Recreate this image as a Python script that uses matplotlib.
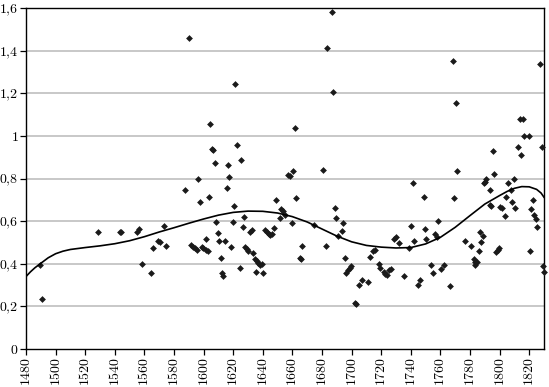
import numpy as np
import matplotlib
matplotlib.use("Agg")
import matplotlib.pyplot as plt

# ── data ──────────────────────────────────────────────────────────────────────

years = [
    1489.5, 1490.6, 1528.6, 1543.6, 1544.4, 1555.3, 1556.4, 1558.4, 1564.4, 1565.7,
    1569.5, 1570.6, 1573.5, 1574.7, 1587.5, 1590.4, 1591.6, 1593.1, 1594.3, 1595.4,
    1596.5, 1597.6, 1598.8, 1599.9, 1601.7, 1601.7, 1602.8, 1603.4, 1604.4, 1605.8,
    1606.6, 1607.5, 1608.5, 1609.4, 1610.6, 1611.6, 1612.3, 1613.4, 1614.5, 1615.6,
    1616.5, 1617.4, 1618.6, 1619.6, 1620.6, 1621.5, 1622.4, 1624.7, 1625.5, 1626.5,
    1627.4, 1628.1, 1629.2, 1630.3, 1631.6, 1632.7, 1633.7, 1634.8, 1635.4, 1636.0,
    1637.0, 1638.2, 1639.3, 1640.4, 1641.6, 1642.9, 1644.2, 1645.0, 1646.1, 1647.7,
    1648.9, 1651.5, 1652.6, 1653.8, 1655.1, 1656.8, 1658.2, 1659.6, 1660.5, 1661.7,
    1662.4, 1664.8, 1665.8, 1666.6, 1674.3, 1680.9, 1682.6, 1683.5, 1686.7, 1687.4,
    1688.5, 1689.7, 1690.5, 1693.4, 1694.5, 1695.5, 1696.4, 1697.5, 1698.6, 1699.5,
    1702.5, 1703.3, 1704.7, 1706.8, 1710.8, 1712.6, 1714.3, 1715.6, 1718.4, 1719.4,
    1721.6, 1722.7, 1723.9, 1725.0, 1726.3, 1728.6, 1729.8, 1731.7, 1735.6, 1738.5,
    1740.4, 1741.5, 1742.3, 1744.6, 1746.4, 1748.6, 1749.8, 1750.6, 1753.5, 1754.7,
    1756.5, 1757.7, 1758.6, 1760.6, 1762.4, 1766.6, 1768.5, 1769.5, 1770.7, 1771.5,
    1776.5, 1780.5, 1782.4, 1783.1, 1783.6, 1784.5, 1785.8, 1787.0, 1787.4, 1788.6,
    1789.7, 1790.4, 1791.0, 1793.3, 1793.3, 1794.3, 1795.5, 1796.4, 1797.8, 1798.8,
    1799.8, 1800.5, 1801.6, 1803.4, 1804.5, 1805.5, 1807.7, 1808.5, 1809.5, 1810.6,
    1812.7, 1814.0, 1814.6, 1815.8, 1816.7, 1819.6, 1820.6, 1821.3, 1822.4, 1823.2,
    1824.4, 1825.5, 1827.5, 1828.6, 1829.4, 1830.0,
]
values = [
    0.394, 0.233, 0.547, 0.549, 0.549, 0.548, 0.562, 0.397, 0.355, 0.475,
    0.508, 0.504, 0.576, 0.485, 0.746, 1.461, 0.488, 0.480, 0.475, 0.465,
    0.796, 0.690, 0.480, 0.472, 0.515, 0.465, 0.461, 0.713, 1.054, 0.939,
    0.932, 0.871, 0.597, 0.542, 0.508, 0.429, 0.357, 0.343, 0.506, 0.757,
    0.865, 0.808, 0.480, 0.596, 0.672, 1.243, 0.957, 0.379, 0.887, 0.573,
    0.619, 0.479, 0.468, 0.461, 0.551, 0.557, 0.449, 0.421, 0.363, 0.412,
    0.405, 0.396, 0.397, 0.355, 0.558, 0.549, 0.540, 0.535, 0.540, 0.566,
    0.698, 0.614, 0.655, 0.646, 0.627, 0.816, 0.810, 0.591, 0.837, 1.037,
    0.709, 0.428, 0.423, 0.484, 0.580, 0.841, 0.484, 1.414, 1.581, 1.207,
    0.663, 0.617, 0.530, 0.554, 0.589, 0.425, 0.355, 0.370, 0.382, 0.390,
    0.216, 0.213, 0.302, 0.322, 0.314, 0.434, 0.461, 0.465, 0.400, 0.382,
    0.363, 0.354, 0.348, 0.371, 0.374, 0.515, 0.524, 0.499, 0.343, 0.473,
    0.578, 0.777, 0.507, 0.302, 0.322, 0.711, 0.565, 0.517, 0.395, 0.356,
    0.541, 0.526, 0.602, 0.376, 0.394, 0.294, 1.351, 0.709, 1.153, 0.835,
    0.508, 0.485, 0.421, 0.394, 0.410, 0.406, 0.461, 0.547, 0.504, 0.530,
    0.778, 0.784, 0.796, 0.745, 0.674, 0.673, 0.929, 0.821, 0.457, 0.465,
    0.476, 0.668, 0.662, 0.625, 0.711, 0.780, 0.747, 0.689, 0.798, 0.660,
    0.948, 1.078, 0.910, 1.078, 1.001, 1.001, 0.461, 0.658, 0.699, 0.629,
    0.611, 0.574, 1.339, 0.948, 0.390, 0.363,
]

# smoothed trend, sampled from the reference curve
trend_years = [
    1480, 1483, 1486, 1490, 1495, 1500, 1505, 1510, 1520, 1530,
    1540, 1550, 1560, 1570, 1580, 1590, 1600, 1610, 1620, 1630,
    1640, 1650, 1660, 1670, 1680, 1690, 1700, 1710, 1720, 1730,
    1740, 1750, 1760, 1770, 1780, 1790, 1800, 1805, 1810, 1815,
    1820, 1825, 1828, 1830,
]
trend_values = [
    0.340, 0.362, 0.381, 0.402, 0.428, 0.447, 0.459, 0.467, 0.476, 0.484,
    0.494, 0.508, 0.527, 0.549, 0.569, 0.590, 0.610, 0.628, 0.641, 0.647,
    0.646, 0.638, 0.621, 0.596, 0.563, 0.530, 0.503, 0.486, 0.478, 0.474,
    0.476, 0.493, 0.524, 0.571, 0.626, 0.680, 0.720, 0.739, 0.754, 0.762,
    0.761, 0.749, 0.732, 0.712,
]

x_ticks = list(range(1480, 1821, 20))
y_ticks = [0, 0.2, 0.4, 0.6, 0.8, 1.0, 1.2, 1.4, 1.6]
y_labels = ["0", "0,2", "0,4", "0,6", "0,8", "1", "1,2", "1,4", "1,6"]

# ── figure ────────────────────────────────────────────────────────────────────

plt.rcParams["mathtext.fontset"] = "cm"
plt.rcParams["font.family"] = ["DejaVu Serif"]


def _cm(s):
    # render in Computer Modern (the reference was typeset with LaTeX)
    return "$" + s.replace(",", "{,}") + "$"


fig = plt.figure(figsize=(5.49, 3.87), dpi=100)
ax = fig.add_axes([26 / 549, 38 / 387, 518 / 549, 341 / 387])

for y in y_ticks[1:-1]:
    ax.axhline(y, color="#c4c4c4", linewidth=1.3, zorder=0)

ax.scatter(years, values, marker="D", s=12, color="#1a1a1a", linewidths=0,
           zorder=3, clip_on=False)
ax.plot(trend_years, trend_values, color="black", linewidth=1.2, zorder=4)

ax.set_xlim(1480, 1830)
ax.set_ylim(0, 1.6)
ax.set_xticks(x_ticks)
ax.set_xticklabels([_cm(str(t)) for t in x_ticks], rotation=90, fontsize=10)
ax.set_yticks(y_ticks)
ax.set_yticklabels([_cm(s) for s in y_labels], fontsize=10)
ax.tick_params(axis="both", direction="out", length=4, width=0.9, pad=1.5,
               colors="black")

for sp in ax.spines.values():
    sp.set_linewidth(1.0)
    sp.set_color("black")

fig.savefig("out.png", dpi=100)
